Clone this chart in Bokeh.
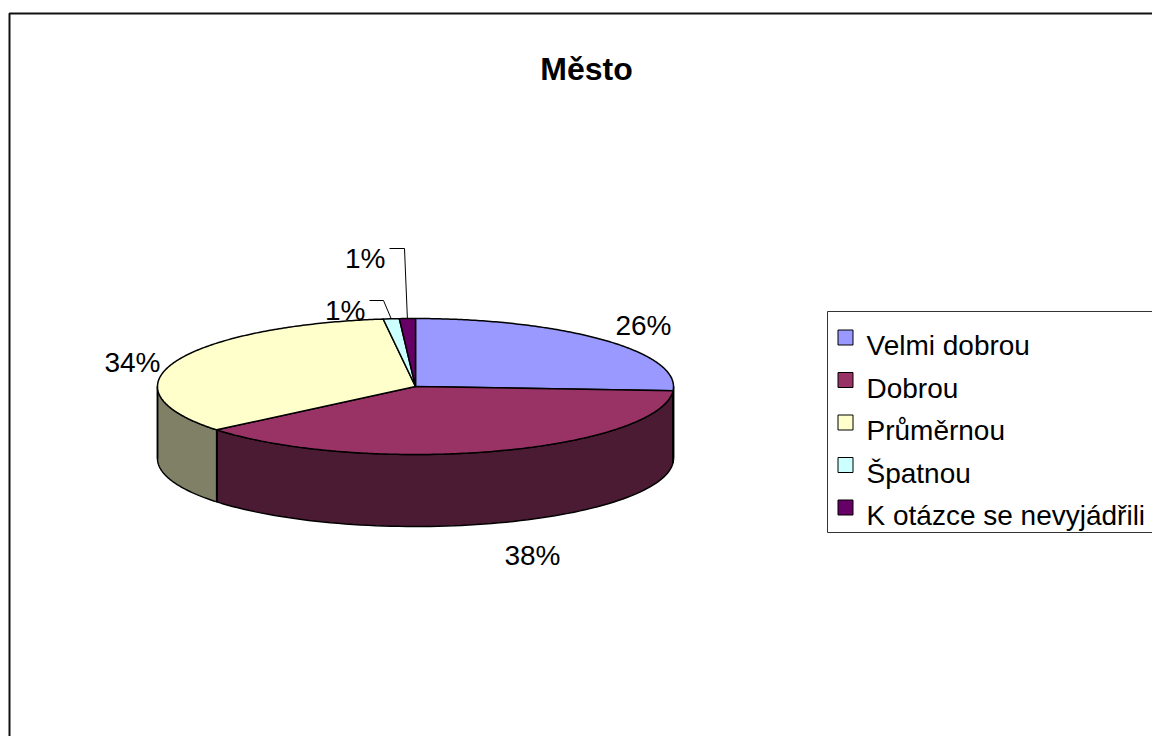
import numpy as np
from bokeh.plotting import figure
from bokeh.models import Range1d
from bokeh.core.properties import value
from bokeh.embed import file_html
from bokeh.resources import INLINE

# ---- data ----
title = "Město"
categories = ["Velmi dobrou", "Dobrou", "Průměrnou", "Špatnou", "K otázce se nevyjádřili"]
percent = [26, 38, 34, 1, 1]
top_colors = ["#9999FF", "#993366", "#FFFFCC", "#CCFFFF", "#660066"]
side_colors = ["#4C4C80", "#4B1A33", "#808066", "#668080", "#330033"]

# ---- layout (screen pixels) ----
CX, CY, RX, RY, DEPTH = 415.0, 386.0, 258.0, 68.0, 72.0
FONT = "Liberation Sans"
LABEL_SIZE = "28px"
LEGEND_SIZE = "28px"
# label anchor (x, baseline y, align) and optional leader corner
label_pos = [(643, 325, "center"), (532, 555, "center"), (132, 362, "center"),
             (365, 310, "right"), (385, 258, "right")]
leader_corner = [None, None, None, (383, 300), (404, 248)]

W, H = 1152, 736
p = figure(width=W, height=H, output_backend="svg", toolbar_location=None,
           x_range=Range1d(0, W), y_range=Range1d(H, 0),
           x_axis_location=None, y_axis_location=None, min_border=0,
           outline_line_color=None, background_fill_color="white",
           border_fill_color="white")
p.grid.visible = False

# chart frame (right/bottom fall outside the window)
p.line([9, 9, 1200], [800, 13, 13], line_color="#111111", line_width=2)

def ell(t_deg, dy=0.0):
    t = np.radians(t_deg)
    return CX + RX * np.sin(t), CY - RY * np.cos(t) + dy

total = float(sum(percent))
bounds = np.concatenate([[0.0], np.cumsum(percent) / total * 360.0])

# side faces (front half: 90..270 deg clockwise from top)
sx, sy, sc = [], [], []
edge_lines_x, edge_lines_y = [], []
for i in range(len(percent)):
    a, b = max(bounds[i], 90.0), min(bounds[i + 1], 270.0)
    if b <= a:
        continue
    t = np.linspace(a, b, 80)
    xt, yt = ell(t)
    xb, yb = ell(t[::-1], DEPTH)
    sx.append(list(xt) + list(xb))
    sy.append(list(yt) + list(yb))
    sc.append(side_colors[i])
    for ang in (a, b):
        x0, y0 = ell(ang)
        edge_lines_x.append([x0, x0])
        edge_lines_y.append([y0, y0 + DEPTH])
p.patches(sx, sy, fill_color=sc, line_color="black", line_width=1.5)
p.multi_line(edge_lines_x, edge_lines_y, line_color="black", line_width=1.5)

# top faces
tx, ty = [], []
for i in range(len(percent)):
    t = np.linspace(bounds[i], bounds[i + 1], max(4, int(percent[i] * 6)))
    xe, ye = ell(t)
    tx.append([CX] + list(xe))
    ty.append([CY] + list(ye))
p.patches(tx, ty, fill_color=top_colors, line_color="black", line_width=1.5)

# title
p.text(x=[586], y=[68], text=[title], text_font=value(FONT), text_font_size="32px",
       text_font_style="bold", text_align="center", text_baseline="alphabetic",
       text_color="black")

# data labels
for i, pct in enumerate(percent):
    lx, ly, al = label_pos[i]
    p.text(x=[lx], y=[ly], text=[f"{pct}%"], text_font=value(FONT),
           text_font_size=LABEL_SIZE, text_align=al, text_baseline="alphabetic",
           text_color="black")
    if leader_corner[i] is not None:
        cxn, cyn = leader_corner[i]
        mid = (bounds[i] + bounds[i + 1]) / 2.0
        ex, ey = ell(mid)
        p.line([lx + 4, cxn, ex], [cyn, cyn, ey], line_color="black", line_width=1)

# legend
p.quad(left=[827], right=[1200], top=[311], bottom=[532], fill_color="white",
       line_color="#333333", line_width=1)
row_y = [337 + 42.5 * k for k in range(len(categories))]
p.rect(x=[845] * len(categories), y=row_y, width=15, height=15,
       fill_color=top_colors, line_color="black", line_width=1)
p.text(x=[866] * len(categories), y=[yy + 8 for yy in row_y], text=categories,
       text_font=value(FONT), text_font_size=LEGEND_SIZE, text_align="left",
       text_baseline="alphabetic", text_color="black")

open("out.html", "w").write(file_html(p, INLINE))
